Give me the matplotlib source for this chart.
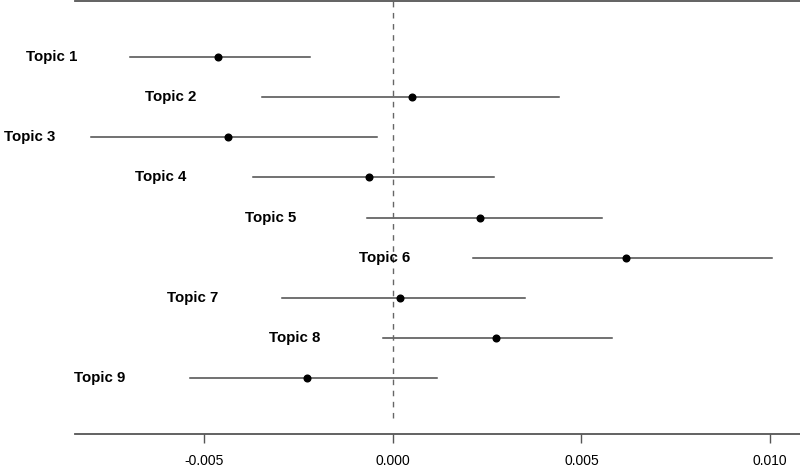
import matplotlib
matplotlib.use('Agg')
import matplotlib.pyplot as plt

# topic effect estimates with 95% intervals
topics = ['Topic 1', 'Topic 2', 'Topic 3', 'Topic 4', 'Topic 5',
          'Topic 6', 'Topic 7', 'Topic 8', 'Topic 9']
estimates = [-0.00463, 0.00050, -0.00436, -0.00063, 0.00231,
             0.00618, 0.00019, 0.00274, -0.00227]
lower = [-0.00696, -0.00346, -0.00799, -0.00370, -0.00068,
         0.00213, -0.00293, -0.00026, -0.00537]
upper = [-0.00219, 0.00441, -0.00042, 0.00268, 0.00555,
         0.01005, 0.00351, 0.00581, 0.00117]
# where each topic name sits (centre, in effect units)
label_x = [-0.00903, -0.00589, -0.00962, -0.00614, -0.00324,
           -0.00022, -0.00530, -0.00259, -0.00777]

xticks = [-0.005, 0.0, 0.005, 0.010]
xtick_labels = ['-0.005', '0.000', '0.005', '0.010']

plt.rcParams['font.family'] = ['Liberation Sans', 'DejaVu Sans']

fig = plt.figure(figsize=(8.0, 4.69), dpi=100)
ax = fig.add_axes([75 / 800, 1 - 434 / 469, 725 / 800, 433 / 469])

rows = list(range(1, len(topics) + 1))
for row, name, est, lo, hi, lx in zip(rows, topics, estimates, lower, upper, label_x):
    ax.plot([lo, hi], [row, row], color='#4a4a4a', linewidth=1.1, zorder=2)
    ax.plot(est, row, 'o', color='black', markersize=4.8, zorder=3)
    ax.text(lx, row, name, ha='center', va='center', fontsize=10.8,
            fontweight='bold', clip_on=False)

ax.vlines(0, 10, -0.4, colors='#666666', linestyles=(0, (4, 4)), linewidth=1.0)

ax.set_xlim(-0.00842, 0.01079)
ax.set_ylim(10.4, -0.4)

ax.set_xticks(xticks)
ax.set_xticklabels(xtick_labels)
ax.set_yticks([])
ax.tick_params(axis='x', length=6.5, width=1.0, color='#555555', pad=8,
               labelsize=10)

for side in ['left', 'right']:
    ax.spines[side].set_visible(False)
for side in ['top', 'bottom']:
    ax.spines[side].set_color('#555555')
    ax.spines[side].set_linewidth(1.3)

fig.savefig('out.png', dpi=100)
